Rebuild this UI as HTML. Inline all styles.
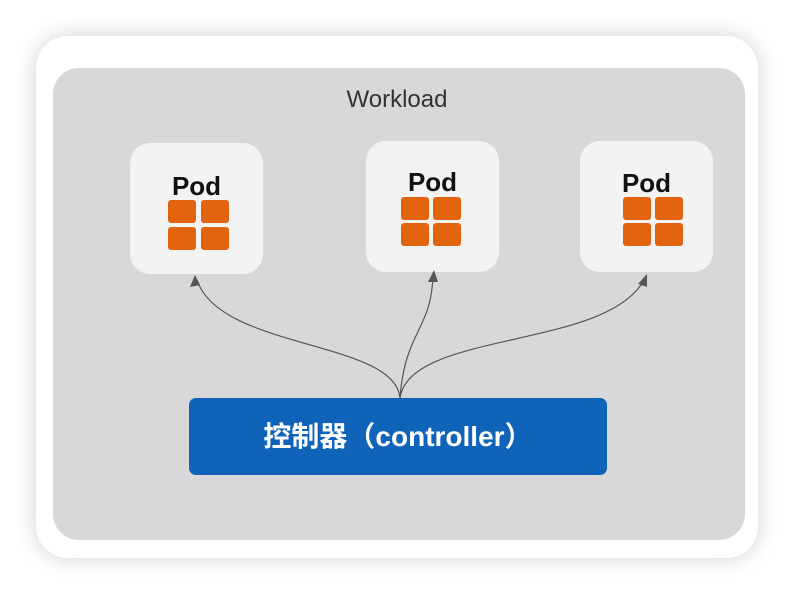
<!DOCTYPE html>
<html><head><meta charset="utf-8"><style>
body{margin:0;width:794px;height:594px;background:#fff;position:relative;overflow:hidden;font-family:"Liberation Sans","Noto Sans CJK SC",sans-serif}
.card{position:absolute;left:36px;top:36px;width:722px;height:522px;background:#fff;border-radius:32px;box-shadow:0 0 22px rgba(0,0,0,0.18)}
.gray{position:absolute;left:53px;top:68px;width:692px;height:472px;background:#d9d7da;border-radius:26px}
.wl{position:absolute;left:0;width:794px;top:86px;text-align:center;font-size:24px;color:#333}
.pod{position:absolute;width:133px;height:131px;background:#f3f3f3;border-radius:20px}
.pod .t{position:absolute;top:28px;left:0;width:100%;text-align:center;font-weight:bold;font-size:26px;color:#111}
.sq{position:absolute;width:28px;height:23px;background:#e2640f;border-radius:3px}
.ctl{position:absolute;left:189px;top:398px;width:418px;height:77px;background:#0f63b9;border-radius:7px;color:#fff;font-weight:bold;font-size:28px;text-align:center;line-height:77px}
</style></head><body>
<div class="card"></div><div class="gray"></div>
<div class="wl">Workload</div>
<div class="pod" style="left:130px;top:143px"><div class="t">Pod</div>
<div class="sq" style="left:38px;top:57px"></div><div class="sq" style="left:71px;top:57px"></div>
<div class="sq" style="left:38px;top:84px"></div><div class="sq" style="left:71px;top:84px"></div></div>
<div class="pod" style="left:366px;top:141px"><div class="t" style="top:26px">Pod</div>
<div class="sq" style="left:35px;top:56px"></div><div class="sq" style="left:67px;top:56px"></div>
<div class="sq" style="left:35px;top:82px"></div><div class="sq" style="left:67px;top:82px"></div></div>
<div class="pod" style="left:580px;top:141px"><div class="t" style="top:27px">Pod</div>
<div class="sq" style="left:43px;top:56px"></div><div class="sq" style="left:75px;top:56px"></div>
<div class="sq" style="left:43px;top:82px"></div><div class="sq" style="left:75px;top:82px"></div></div>
<svg width="794" height="594" style="position:absolute;left:0;top:0">
<g fill="none" stroke="#555" stroke-width="1.2">
<path d="M400 398 C395 340 220 350 197 280"/>
<path d="M400 398 C405 330 432 330 433 274"/>
<path d="M400 398 C410 330 610 350 645 278"/>
</g>
<g fill="#555">
<polygon points="195,275 190,287 200,285"/>
<polygon points="434,270 428,282 438,282"/>
<polygon points="647,274 638,284 647,287"/>
</g>
</svg>
<div class="ctl">控制器（controller）</div>
</body></html>
